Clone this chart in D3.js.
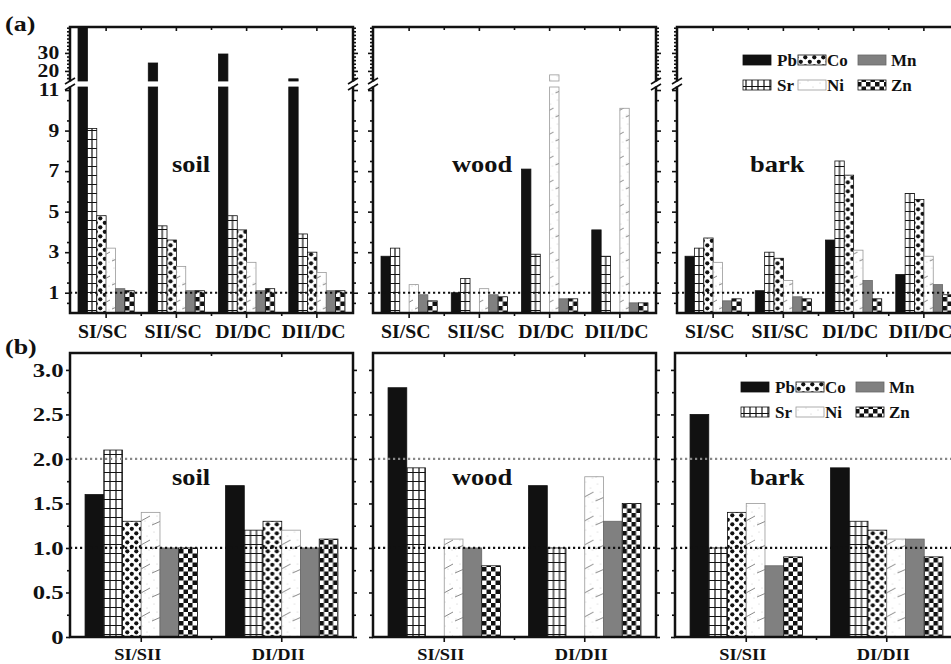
<!DOCTYPE html>
<html lang="en">
<head>
<meta charset="utf-8">
<title>Element ratios in soil, wood and bark</title>
<style>
body { margin: 0; background: #fff; }
svg text { font-family: "Liberation Serif", "Times New Roman", serif; font-weight: bold; fill: #111; }
</style>
</head>
<body>
<script src="https://cdn.jsdelivr.net/npm/d3@7"></script>
<script>

var W = 951, H = 664;

// data
var elements = ["Pb", "Sr", "Co", "Ni", "Mn", "Zn"];
var legendOrder = ["Pb", "Co", "Mn", "Sr", "Ni", "Zn"];
var groupsA = ["SI/SC", "SII/SC", "DI/DC", "DII/DC"];
var groupsB = ["SI/SII", "DI/DII"];
var tissues = ["soil", "wood", "bark"];

// (a) values per group, in element order Pb Sr Co Ni Mn Zn
var soilA = [[45, 9.1, 4.8, 3.2, 1.2, 1.1], [24.4, 4.3, 3.6, 2.3, 1.1, 1.1], [29.4, 4.8, 4.1, 2.5, 1.1, 1.2], [15.6, 3.9, 3.0, 2.0, 1.1, 1.1]];
var woodA = [[2.8, 3.2, null, 1.4, 0.9, 0.6], [1.0, 1.7, null, 1.2, 0.9, 0.8], [7.1, 2.9, null, 17.8, 0.7, 0.7], [4.1, 2.8, null, 10.1, 0.5, 0.5]];
var barkA = [[2.8, 3.2, 3.7, 2.5, 0.6, 0.7], [1.1, 3.0, 2.7, 1.6, 0.8, 0.7], [3.6, 7.5, 6.8, 3.1, 1.6, 0.7], [1.9, 5.9, 5.6, 2.8, 1.4, 0.9]];

// (b)
var soilB = [[1.6, 2.1, 1.3, 1.4, 1.0, 1.0], [1.7, 1.2, 1.3, 1.2, 1.0, 1.1]];
var woodB = [[2.8, 1.9, null, 1.1, 1.0, 0.8], [1.7, 1.0, null, 1.8, 1.3, 1.5]];
var barkB = [[2.5, 1.0, 1.4, 1.5, 0.8, 0.9], [1.9, 1.3, 1.2, 1.1, 1.1, 0.9]];

var topData = [soilA, woodA, barkA];
var botData = [soilB, woodB, barkB];

var svg = d3.select("body").append("svg")
    .attr("width", W)
    .attr("height", H);

// fill patterns
var defs = svg.append("defs");
function pattern(id, w, h) {
    var p = defs.append("pattern").attr("id", id)
        .attr("patternUnits", "userSpaceOnUse")
        .attr("width", w).attr("height", h);
    p.append("rect").attr("width", w).attr("height", h).attr("fill", "#fff");
    return p;
}
pattern("sr", 6, 9).append("path")
    .attr("d", "M3,0V9M0,4.5H6").attr("stroke", "#111").attr("stroke-width", 1.2);
var pc = pattern("co", 9, 9);
pc.append("circle").attr("cx", 2.3).attr("cy", 2.3).attr("r", 2.1).attr("fill", "#111");
pc.append("circle").attr("cx", 6.8).attr("cy", 6.8).attr("r", 2.1).attr("fill", "#111");
var pn = pattern("ni", 20, 24);
[[3, 4], [11, 2], [16, 8], [6, 12], [14, 17], [2, 19], [9, 21], [18, 22]].forEach(function(d) {
    pn.append("circle").attr("cx", d[0]).attr("cy", d[1]).attr("r", 0.5).attr("fill", "#bbb");
});
pn.append("path").attr("d", "M1,21 Q9,18 19,12").attr("fill", "none")
    .attr("stroke", "#555").attr("stroke-width", 0.7);
var pz = pattern("zn", 9, 9);
pz.append("rect").attr("width", 4.5).attr("height", 4.5).attr("fill", "#111");
pz.append("rect").attr("x", 4.5).attr("y", 4.5).attr("width", 4.5).attr("height", 4.5).attr("fill", "#111");

var fills = {Pb: "#111", Sr: "url(#sr)", Co: "url(#co)", Ni: "url(#ni)", Mn: "#808080", Zn: "url(#zn)"};
var strokes = {Pb: "#111", Sr: "#111", Co: "#111", Ni: "#999", Mn: "#666", Zn: "#111"};

var panelW = 283;
var topX = [70, 373, 677];
var botX = [70, 373, 675];

// (a) broken y axis
var aTop = 27, aBot = 313;
var lowMax = 11.15, highMin = 14.4, highMax = 44.4;
var yLow = d3.scaleLinear().domain([0, lowMax]).range([aBot, 87]);
var yHigh = d3.scaleLinear().domain([highMin, highMax]).range([81, aTop]);

// (b) y axis
var bTop = 353, bBot = 637;
var yB = d3.scaleLinear().domain([0, 3.19]).range([bBot, bTop]);

function stretch(sel, s) {
    sel.selectAll("text").attr("transform", "scale(" + s + ",1)");
}

function styleAxis(g, size) {
    g.attr("font-family", null).attr("font-size", size);
    g.select(".domain").remove();
    g.selectAll(".tick line").attr("stroke", "#111").attr("stroke-width", 1.6);
}

function legend(left, top) {
    var lg = svg.append("g").attr("transform", "translate(" + left + "," + top + ")");
    var sx = [66, 121, 181], tx = [100, 150, 214];
    legendOrder.forEach(function(el, k) {
        var c = k % 3, r = Math.floor(k / 3);
        lg.append("rect").attr("x", sx[c]).attr("y", r * 25)
            .attr("width", 28).attr("height", 10)
            .attr("fill", fills[el]).attr("stroke", strokes[el]).attr("stroke-width", 0.8);
        lg.append("text").attr("x", tx[c]).attr("y", r * 25 + 11)
            .attr("font-size", 17).text(el);
    });
}

function xScales(groups, left) {
    var x0 = d3.scaleBand().domain(groups).range([left + 1, left + panelW - 1]);
    var x1 = d3.scaleBand().domain(elements).range([0, x0.bandwidth()]).paddingOuter(0.75);
    return [x0, x1];
}

function bars(g, data, groups, x0, x1) {
    return g.selectAll("g.grp")
        .data(data)
        .enter()
        .append("g")
        .attr("transform", function(d, j) { return "translate(" + x0(groups[j]) + ",0)"; })
        .selectAll("g")
        .data(function(d) {
            return d.map(function(v, k) { return {el: elements[k], v: v}; })
                .filter(function(o) { return o.v != null; });
        })
        .enter()
        .append("g");
}

function barRect(sel, x1, yFn, baseY) {
    sel.append("rect")
        .attr("x", function(o) { return x1(o.el); })
        .attr("width", x1.bandwidth())
        .attr("y", yFn)
        .attr("height", function(o) { return baseY - yFn(o); })
        .attr("fill", function(o) { return fills[o.el]; })
        .attr("stroke", function(o) { return strokes[o.el]; })
        .attr("stroke-width", 0.8);
}

function edgeTicks(g, x0, groups, y, len, minorLen) {
    var ax = g.append("g").attr("transform", "translate(0," + y + ")")
        .call(d3.axisBottom(x0).tickSize(len).tickFormat(""));
    styleAxis(ax, 10);
    groups.slice(1).forEach(function(gr) {
        g.append("line").attr("x1", x0(gr)).attr("x2", x0(gr))
            .attr("y1", y).attr("y2", y + minorLen)
            .attr("stroke", "#111").attr("stroke-width", 1.6);
    });
}

// ---------- row (a) ----------
topData.forEach(function(data, i) {
    var left = topX[i], right = left + panelW;
    var xs = xScales(groupsA, left), x0 = xs[0], x1 = xs[1];
    var g = svg.append("g");

    var b = bars(g, data, groupsA, x0, x1);
    barRect(b, x1, function(o) { return yLow(Math.min(o.v, lowMax)); }, aBot);
    barRect(b.filter(function(o) { return o.v > highMin; }), x1,
        function(o) { return yHigh(Math.min(o.v, highMax)); }, 81);

    g.append("line").attr("x1", left).attr("x2", right)
        .attr("y1", yLow(1)).attr("y2", yLow(1))
        .attr("stroke", "#111").attr("stroke-width", 2.2).attr("stroke-dasharray", "2.2,2.8");

    g.append("rect").attr("x", left).attr("y", aTop).attr("width", panelW).attr("height", aBot - aTop)
        .attr("fill", "none").attr("stroke", "#111").attr("stroke-width", 2.5);

    // x axis (bottom, labelled) and top ticks
    var xa = g.append("g").attr("transform", "translate(0," + aBot + ")")
        .call(d3.axisBottom(x0).tickSize(5).tickPadding(7));
    styleAxis(xa, 18);
    xa.selectAll("text").attr("x", -3);
    stretch(xa, 1.1);
    groupsA.slice(1).forEach(function(gr) {
        g.append("line").attr("x1", x0(gr)).attr("x2", x0(gr)).attr("y1", aBot).attr("y2", aBot + 3)
            .attr("stroke", "#111").attr("stroke-width", 1.6);
    });
    edgeTicks(g, x0, groupsA, aTop, 4, 3);

    // y axes, both sides
    [[left, d3.axisLeft], [right, d3.axisRight]].forEach(function(s, side) {
        var lab = (i === 0 && side === 0);
        var maj = g.append("g").attr("transform", "translate(" + s[0] + ",0)")
            .call(s[1](yLow).tickValues(d3.range(1, 12, 2)).tickSize(5).tickPadding(4)
                .tickFormat(lab ? d3.format("d") : ""));
        styleAxis(maj, 18);
        stretch(maj, 1.2);
        var mn = g.append("g").attr("transform", "translate(" + s[0] + ",0)")
            .call(s[1](yLow).tickValues(d3.range(0.5, 11.1, 1)).tickSize(3).tickFormat(""));
        styleAxis(mn, 10);
        var hi = g.append("g").attr("transform", "translate(" + s[0] + ",0)")
            .call(s[1](yHigh).tickValues([20, 30]).tickSize(5).tickPadding(4)
                .tickFormat(lab ? d3.format("d") : ""));
        styleAxis(hi, 18);
        stretch(hi, 1.2);
        var hm = g.append("g").attr("transform", "translate(" + s[0] + ",0)")
            .call(s[1](yHigh).tickValues([16, 18, 22, 24, 26, 28, 32, 34, 36, 38, 40, 42, 44]).tickSize(3).tickFormat(""));
        styleAxis(hm, 10);

        // break mark
        g.append("rect").attr("x", s[0] - 4).attr("y", 81.5).attr("width", 8).attr("height", 5).attr("fill", "#fff");
        g.append("path").attr("d", "M" + (s[0] - 5) + ",84L" + (s[0] + 5) + ",78M" + (s[0] - 5) + ",90L" + (s[0] + 5) + ",84")
            .attr("stroke", "#111").attr("stroke-width", 1.6);
    });

    g.append("text").attr("transform", "translate(" + [172, 452, 750][i] + ",172) scale(1.15,1)")
        .attr("font-size", 23).text(tissues[i]);
});

// ---------- row (b) ----------
botData.forEach(function(data, i) {
    var left = botX[i], right = left + panelW;
    var xs = xScales(groupsB, left), x0 = xs[0], x1 = xs[1];
    var g = svg.append("g");

    var b = bars(g, data, groupsB, x0, x1);
    barRect(b, x1, function(o) { return yB(o.v); }, bBot);

    g.append("line").attr("x1", left).attr("x2", right)
        .attr("y1", yB(2)).attr("y2", yB(2))
        .attr("stroke", "#888").attr("stroke-width", 2.2).attr("stroke-dasharray", "2.2,2.8");
    g.append("line").attr("x1", left).attr("x2", right)
        .attr("y1", yB(1)).attr("y2", yB(1))
        .attr("stroke", "#111").attr("stroke-width", 2.2).attr("stroke-dasharray", "2.2,2.8");

    g.append("rect").attr("x", left).attr("y", bTop).attr("width", panelW).attr("height", bBot - bTop)
        .attr("fill", "none").attr("stroke", "#111").attr("stroke-width", 2.5);

    var xa = g.append("g").attr("transform", "translate(0," + bBot + ")")
        .call(d3.axisBottom(x0).tickSize(5).tickPadding(7));
    styleAxis(xa, 16);
    xa.selectAll("text").attr("x", -3);
    stretch(xa, 1.15);
    groupsB.slice(1).forEach(function(gr) {
        g.append("line").attr("x1", x0(gr)).attr("x2", x0(gr)).attr("y1", bBot).attr("y2", bBot + 3)
            .attr("stroke", "#111").attr("stroke-width", 1.6);
    });
    edgeTicks(g, x0, groupsB, bTop, 4, 3);

    [[left, d3.axisLeft], [right, d3.axisRight]].forEach(function(s, side) {
        var lab = (i === 0 && side === 0);
        var maj = g.append("g").attr("transform", "translate(" + s[0] + ",0)")
            .call(s[1](yB).tickValues(d3.range(0, 3.01, 0.5)).tickSize(4).tickPadding(1)
                .tickFormat(lab ? function(v) { return v === 0 ? "0" : d3.format(".1f")(v); } : ""));
        styleAxis(maj, 19);
        stretch(maj, 1.3);
        var mn = g.append("g").attr("transform", "translate(" + s[0] + ",0)")
            .call(s[1](yB).tickValues(d3.range(0.25, 3.2, 0.5)).tickSize(3).tickFormat(""));
        styleAxis(mn, 10);
    });

    g.append("text").attr("transform", "translate(" + [172, 452, 750][i] + ",485) scale(1.15,1)")
        .attr("font-size", 23).text(tissues[i]);
});

legend(topX[2], aTop + 28);
legend(botX[2], bTop + 29);

svg.append("text").attr("transform", "translate(5,31) scale(1.3,1)").attr("font-size", 20).text("(a)");
svg.append("text").attr("transform", "translate(5,354) scale(1.3,1)").attr("font-size", 20).text("(b)");

</script>
</body>
</html>
